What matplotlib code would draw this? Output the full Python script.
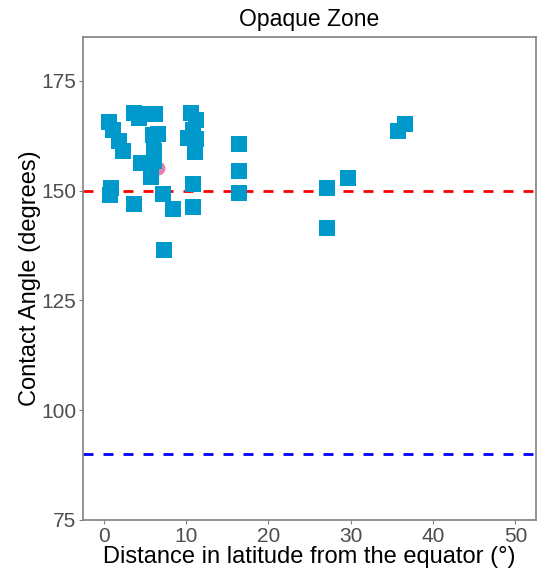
import matplotlib.pyplot as plt

plt.rcParams['font.family'] = ['Liberation Sans', 'DejaVu Sans']

# distance from equator (deg) and contact angle (deg), opaque zone
lat_dist = [0.7, 1.2, 1.9, 2.4, 0.9, 0.8, 3.7,
            3.7, 4.3, 5.6, 6.3, 6.0, 6.6, 6.1, 4.6, 6.1, 5.7,
            7.2, 8.4, 7.3,
            10.6, 11.2, 10.9, 10.2, 11.2, 11.1, 10.9, 10.9,
            16.4, 16.4, 16.4,
            27.1, 27.1, 29.7, 35.7, 36.6]
contact_angle = [165.7, 163.8, 161.4, 159.1, 150.5, 149.0, 147.0,
                 167.8, 166.6, 167.4, 167.4, 162.6, 163.0, 159.1, 156.4, 156.8, 153.2,
                 149.3, 145.9, 136.4,
                 167.6, 166.2, 163.8, 162.0, 161.8, 158.9, 151.5, 146.2,
                 160.6, 154.4, 149.5,
                 150.6, 141.5, 152.9, 163.6, 165.2]

# single highlighted point (pink), mostly hidden behind squares
pink_x = [6.6]
pink_y = [155.2]

superhydrophobic = 150
hydrophobic = 90

fig = plt.figure(figsize=(5.4, 5.73), dpi=100)
ax = fig.add_axes([0.1537, 0.0925, 0.8389, 0.8429])

ax.axhline(superhydrophobic, color='#FF0000', linestyle=(0, (3.6, 3.6)), linewidth=2, zorder=1)
ax.axhline(hydrophobic, color='#0000FF', linestyle=(0, (3.6, 3.6)), linewidth=2, zorder=1)

ax.scatter(pink_x, pink_y, marker='o', s=100, color='#E87DA8', zorder=2, linewidths=0)
ax.scatter(lat_dist, contact_angle, marker='s', s=135, color='#0099CC', zorder=3, linewidths=0)

ax.set_xlim(-2.5, 52.5)
ax.set_ylim(75, 185)
ax.set_xticks([0, 10, 20, 30, 40, 50])
ax.set_yticks([75, 100, 125, 150, 175])

for sp in ax.spines.values():
    sp.set_color('#808080')
    sp.set_linewidth(1.2)
ax.tick_params(colors='#808080', labelcolor='#4D4D4D', labelsize=15, length=3, pad=2)

ax.set_xlabel('Distance in latitude from the equator (°)', fontsize=17, labelpad=0)
ax.set_ylabel('Contact Angle (degrees)', fontsize=17, labelpad=0)
ax.set_title('Opaque Zone', fontsize=16.5, pad=8)

plt.savefig('out.png', dpi=100)
